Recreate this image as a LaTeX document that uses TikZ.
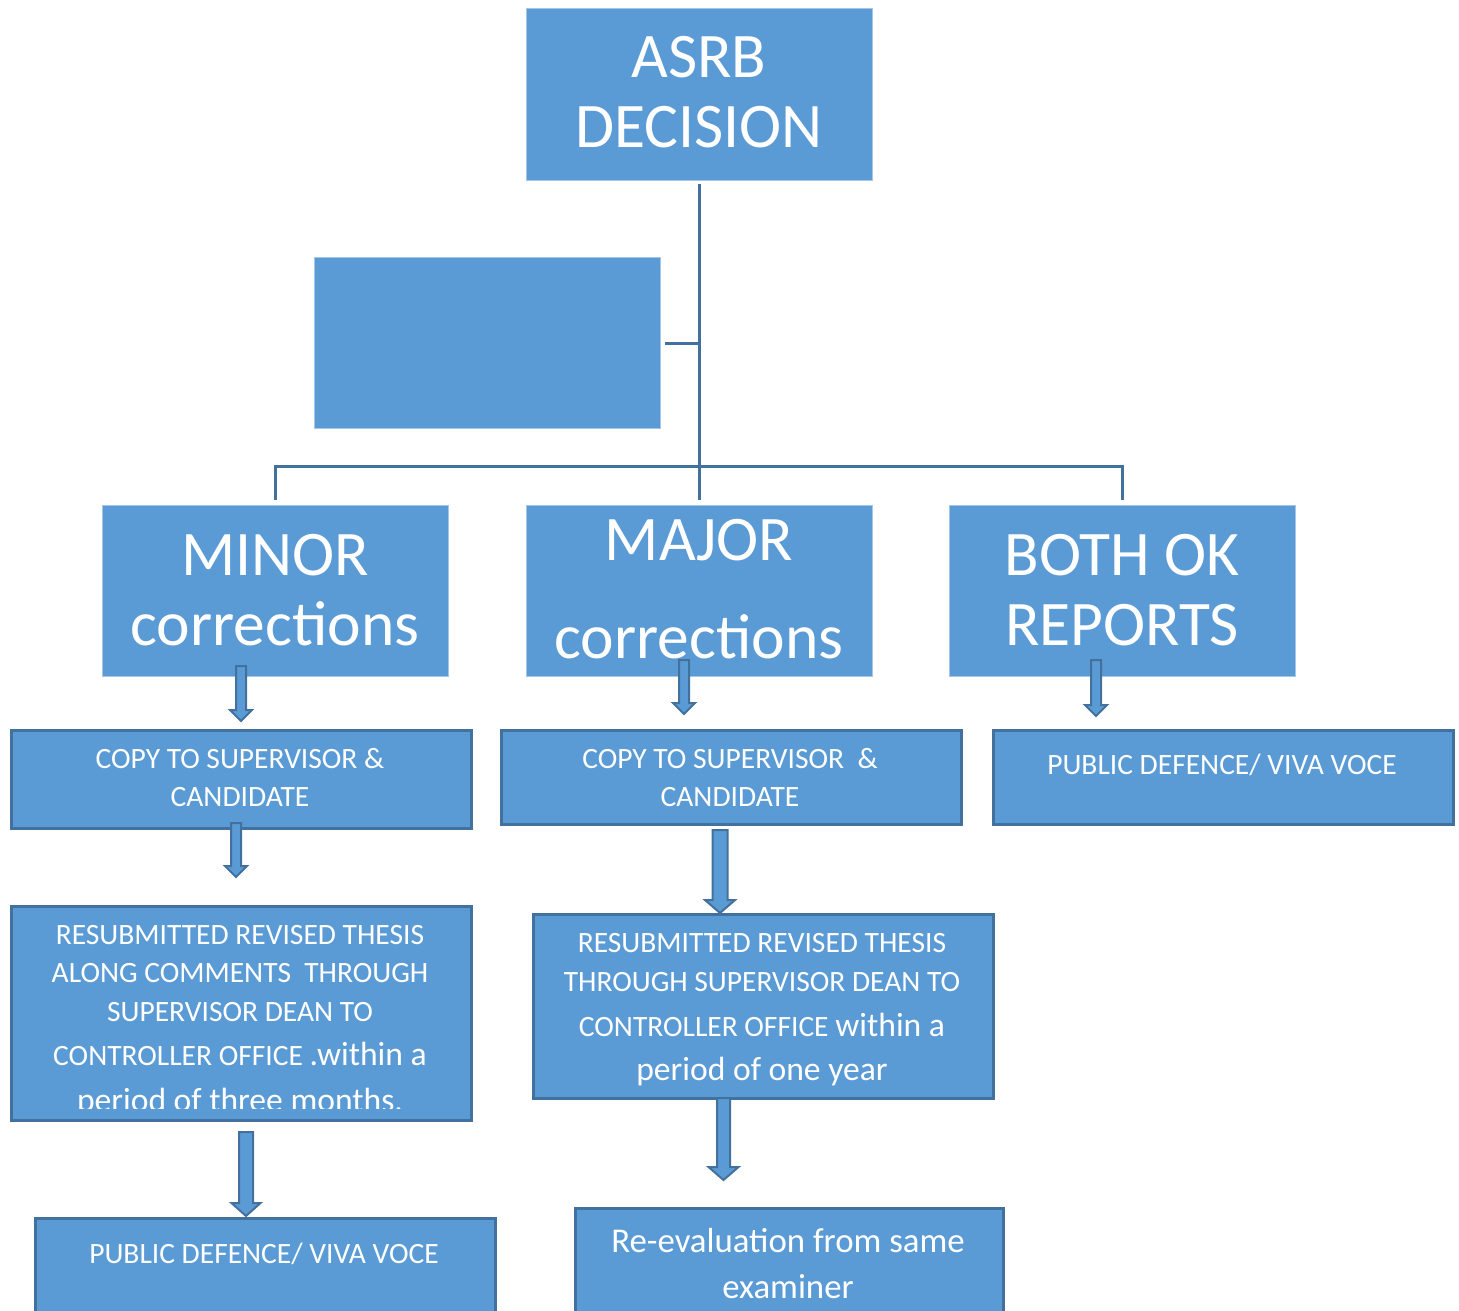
\documentclass[tikz,border=0pt]{standalone}
\usepackage{fontspec}
\setmainfont{Carlito}
\definecolor{boxblue}{HTML}{5B9BD5}
\definecolor{edgeblue}{HTML}{41719C}
\definecolor{lightedge}{HTML}{A4C6E8}
\tikzset{
 topbox/.style={rectangle, fill=boxblue, draw=lightedge, line width=1pt, inner sep=0pt, anchor=north west},
 lowbox/.style={rectangle, fill=boxblue, draw=edgeblue, line width=2.5pt, inner sep=0pt, anchor=north west},
 conn/.style={draw=edgeblue, line width=3pt},
 bigtxt/.style={text=white, align=center, inner sep=0pt, font=\fontsize{63.5}{70}\selectfont},
 smalltxt/.style={text=white, align=center, inner sep=0pt, font=\fontsize{29.5}{38}\selectfont},
 barrow/.style={fill=boxblue, draw=edgeblue, line width=2pt, line join=miter},
}
\newcommand\blockarrow[6]{%
 \draw[barrow] (#1-#4,#2) -- (#1+#4,#2) -- (#1+#4,#3-#6) -- (#1+#5,#3-#6) -- (#1,#3)
   -- (#1-#5,#3-#6) -- (#1-#4,#3-#6) -- cycle;}
\newcommand\largerpart{\fontsize{33.6}{38}\selectfont}
\begin{document}
\begin{tikzpicture}[x=1pt,y=-1pt]
\useasboundingbox (0,0) rectangle (1459,1311);
\clip (0,0) rectangle (1459,1311);
% top level boxes
\node[topbox, minimum width=346pt, minimum height=172pt] (asrb) at (526,8) {};
\node[topbox, minimum width=346pt, minimum height=171pt] (blank) at (314,257) {};
\node[topbox, minimum width=346pt, minimum height=171pt] (minor) at (102,505) {};
\node[topbox, minimum width=346pt, minimum height=171pt] (major) at (526,505) {};
\node[topbox, minimum width=346pt, minimum height=171pt] (both) at (949,505) {};
% connectors
\coordinate (hub) at (698,466);
\draw[conn] ([yshift=-3pt]asrb.south) -- ([yshift=5pt]major.north);
\draw[conn] ([yshift=5pt]minor.north) |- (hub) -| ([yshift=5pt]both.north);
\draw[conn] ([xshift=4pt]blank.east) -- (blank.east -| asrb.south);
% lower boxes
\node[lowbox, minimum width=460pt, minimum height=98pt] (copyL) at (10,729) {};
\node[lowbox, minimum width=460pt, minimum height=94pt] (copyM) at (500,729) {};
\node[lowbox, minimum width=460pt, minimum height=94pt] (pubR) at (992,729) {};
\node[lowbox, minimum width=460pt, minimum height=214pt] (resL) at (10,905) {};
\node[lowbox, minimum width=460pt, minimum height=184pt] (resM) at (532,913) {};
\node[lowbox, minimum width=460pt, minimum height=110pt] (pubL) at (34,1217) {};
\node[lowbox, minimum width=428pt, minimum height=120pt] (reev) at (574,1207) {};
% texts
\node[bigtxt] (asrbT) at (699,92) {ASRB\\DECISION};
\node[bigtxt] (minorT) at (275,590) {MINOR\\corrections};
\node[bigtxt] (majorT) at (699,589) {MAJOR\\[28pt]corrections};
\node[bigtxt] (bothT) at (1122,590) {BOTH OK\\REPORTS};
\node[smalltxt] (copyLT) at (240,778) {COPY TO SUPERVISOR \&\\CANDIDATE};
\node[smalltxt] (copyMT) at (730,778) {COPY TO SUPERVISOR~~\&\\CANDIDATE};
\node[smalltxt] (pubRT) at (1222,765) {PUBLIC DEFENCE/ VIVA VOCE};
\node[smalltxt] (pubLT) at (264,1254) {PUBLIC DEFENCE/ VIVA VOCE};
\begin{scope}
\clip (10,905) rectangle (470,1108);
\node[smalltxt, anchor=north] (resLT) at (240,925) {RESUBMITTED REVISED THESIS\\ALONG COMMENTS~~THROUGH\\[1pt]SUPERVISOR DEAN TO\\[6pt]CONTROLLER OFFICE {\largerpart .within a}\\[8pt]{\largerpart period of three months.}};
\end{scope}
\node[smalltxt] (resMT) at (762,1009.5) {RESUBMITTED REVISED THESIS\\[1pt]THROUGH SUPERVISOR DEAN TO\\[7pt]CONTROLLER OFFICE {\largerpart within a}\\[6pt]{\largerpart period of one year}};
\node[smalltxt, font=\fontsize{34.8}{46}\selectfont] (reevT) at (788,1264) {Re-evaluation from same\\examiner};
% block arrows
\blockarrow{241}{666}{721}{5}{11}{11}
\blockarrow{684}{660}{714}{5}{11}{11}
\blockarrow{1096}{660}{716}{5}{11}{11}
\blockarrow{236}{823}{877}{5}{11}{11}
\blockarrow{720}{830}{913}{7.5}{15}{13}
\blockarrow{246}{1132}{1216}{7}{14.5}{13}
\blockarrow{723.5}{1098}{1180}{6.5}{15}{13}
\end{tikzpicture}
\end{document}
